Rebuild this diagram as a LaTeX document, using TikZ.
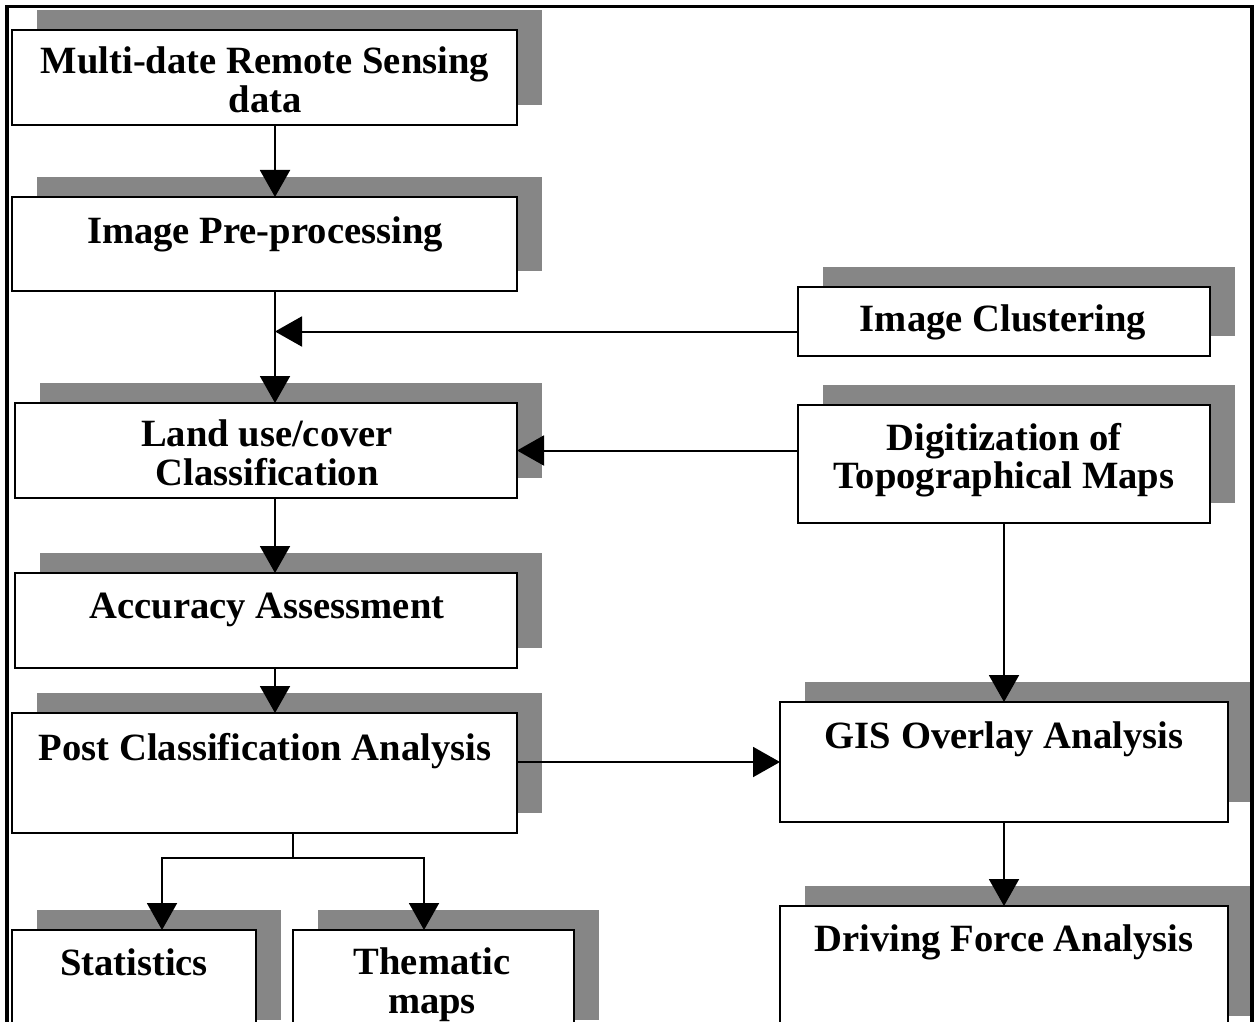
\documentclass[tikz,border=0pt]{standalone}
\usepackage{fontspec}
\setmainfont{Liberation Serif}
\usetikzlibrary{arrows.meta,shadows}
\definecolor{shadowgray}{RGB}{134,134,134}
\begin{document}
\begin{tikzpicture}[x=1pt,y=-1pt,
  box/.style={draw=black, line width=2pt, fill=white, inner sep=0pt, outer sep=0pt,
    anchor=north west,
    drop shadow={shadow xshift=25pt, shadow yshift=20pt, fill=shadowgray, opacity=1}},
  txt/.style={font=\fontsize{38.6}{38.6}\selectfont\bfseries, inner sep=0pt, align=center},
  arr/.style={line width=2pt, -{Triangle[length=27pt,width=30pt]}},
  conn/.style={line width=2pt},
  frame/.style={line width=3.5pt}]
\useasboundingbox (0,0) rectangle (1256,1022);

% boxes
\node[box, minimum width=505pt, minimum height=95pt]  (b1) at (12,30) {};
\node[box, minimum width=505pt, minimum height=94pt]  (b2) at (12,197) {};
\node[box, minimum width=502pt, minimum height=95pt]  (b3) at (15,403) {};
\node[box, minimum width=502pt, minimum height=95pt]  (b4) at (15,573) {};
\node[box, minimum width=505pt, minimum height=120pt] (b5) at (12,713) {};
\node[box, minimum width=244pt, minimum height=110pt] (b6) at (12,930) {};
\node[box, minimum width=281pt, minimum height=110pt] (b7) at (293,930) {};
\node[box, minimum width=412pt, minimum height=69pt]  (ic) at (798,287) {};
\node[box, minimum width=412pt, minimum height=118pt] (dg) at (798,405) {};
\node[box, minimum width=448pt, minimum height=120pt] (gis) at (780,702) {};
\node[box, minimum width=448pt, minimum height=130pt] (df) at (780,906) {};

% texts
\node[txt] (t1) at (265,80) {Multi-date Remote Sensing\\data};
\node[txt, anchor=base] (t2) at (265,243) {Image Pre-processing};
\node[txt] (t3) at (267,453) {Land use/cover\\Classification};
\node[txt, anchor=base] (t4) at (267,618) {Accuracy Assessment};
\node[txt, anchor=base] (t5) at (265,760) {Post Classification Analysis};
\node[txt, anchor=base] (t6) at (134,975) {Statistics};
\node[txt] (t7) at (432,984.5) {Thematic\\maps};
\node[txt, anchor=base] (t8) at (1003,331) {Image Clustering};
\node[txt] (t9) at (1004,460) {Digitization of\\Topographical Maps};
\node[txt, anchor=base] (t10) at (1004,748) {GIS Overlay Analysis};
\node[txt, anchor=base] (t11) at (1004,951) {Driving Force Analysis};

% helper coordinates
\coordinate (spine) at ([xshift=10.5pt]b2.south);
\coordinate (icout) at ([yshift=-10pt]ic.west);
\coordinate (split) at ([xshift=28.5pt,yshift=-25pt]b5.south);

% connectors
\draw[arr] (spine |- b1.south) -- (spine |- b2.north);
\draw[arr] (spine) -- (spine |- b3.north);
\draw[arr] (icout) -- (icout -| spine);
\draw[arr] (dg.west |- b3.east) -- (b3.east);
\draw[arr] (spine |- b3.south) -- (spine |- b4.north);
\draw[arr] (spine |- b4.south) -- (spine |- b5.north);
\draw[arr] (b5.east |- gis.west) -- (gis.west);
\draw[arr] (dg.south) -- (gis.north);
\draw[arr] (gis.south) -- (df.north);
\draw[conn] (b5.south -| split) -- (split);
\draw[arr] (split) -| ([xshift=28pt]b6.north);
\draw[arr] (split) -| ([xshift=-9.5pt]b7.north);

% outer frame
\draw[frame] (7,1030) -- (7,6.5) -- (1252,6.5) -- (1252,1030);
\end{tikzpicture}
\end{document}
